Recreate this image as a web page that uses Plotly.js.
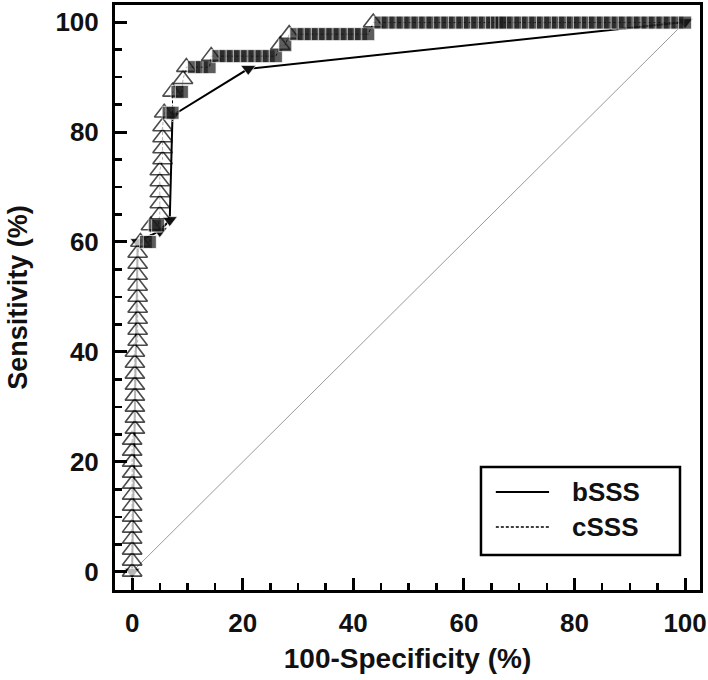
<!DOCTYPE html>
<html>
<head>
<meta charset="utf-8">
<script src="https://cdn.plot.ly/plotly-3.0.1.min.js"></script>
<style>
  body { margin: 0; background: #fff; }
  #chart { width: 708px; height: 680px; }
</style>
</head>
<body>
<div id="chart"></div>
<script>
// series names
const seriesNames = ['bSSS', 'cSSS'];

// bSSS: coarse ROC points (solid line)
const bX = [0, 1, 5, 6.8, 7.3, 21, 100];
const bY = [0, 60, 62, 64, 83, 91.5, 100];

// cSSS: step ROC points (dashed line, triangles)
const cX = [
    0, 0, 0, 0, 0, 0, 0, 0, 0, 0, 0, 0, 0,
    0.5, 0.5, 0.5, 0.5, 0.5, 0.5, 0.5, 0.5,
    1, 1, 1, 1, 1, 1, 1, 1, 1,
    1.5, 2.5, 3.2,
    3.4, 4.1, 4.7,
    5, 5, 5, 5, 5, 5.5, 5.5, 5.5, 5.5,
    5.8, 6.6, 7.3,
    7.3, 8.2, 9.0,
    9.2,
    9.8, 11.2, 12.6, 14,
    14.3, 15.6, 16.9, 18.2, 19.5, 20.8, 22.1, 23.4, 24.7, 26,
    26.8, 27.7,
    28.4, 29.7, 31, 32.3, 33.6, 34.9, 36.2, 37.5, 38.8, 40.1, 41.4, 42.7,
    43.6, 44.9, 46.2, 47.6, 48.9, 50.3, 51.6, 53, 54.3, 55.7, 57, 58.4, 59.7,
    61.1, 62.4, 63.8, 65.1, 66, 66.8, 67.5, 68.9, 70.2, 71.6, 72.9, 74.3, 75.6,
    77, 78.3, 79.7, 81, 82.4, 83.7, 85.1, 86.4, 87.8, 89.1, 90.5, 91.8, 93.2,
    94.5, 95.9, 97.2, 98.6, 100
];
const cY = [
    0, 2, 4, 6, 8, 10, 12, 14, 16, 18, 20, 22, 24,
    26, 28, 30, 32, 34, 36, 38, 40,
    42, 44, 46, 48, 50, 52, 54, 56, 58,
    60, 60, 60,
    63, 63, 63,
    65, 67, 69, 71, 73, 75, 77, 79, 81,
    83.5, 83.5, 83.5,
    87.3, 87.3, 87.3,
    89.6,
    91.8, 91.8, 91.8, 91.8,
    93.8, 93.8, 93.8, 93.8, 93.8, 93.8, 93.8, 93.8, 93.8, 93.8,
    95.8, 95.8,
    97.8, 97.8, 97.8, 97.8, 97.8, 97.8, 97.8, 97.8, 97.8, 97.8, 97.8, 97.8,
    99.9, 99.9, 99.9, 99.9, 99.9, 99.9, 99.9, 99.9, 99.9, 99.9, 99.9, 99.9, 99.9,
    99.9, 99.9, 99.9, 99.9, 99.9, 99.9, 99.9, 99.9, 99.9, 99.9, 99.9, 99.9, 99.9,
    99.9, 99.9, 99.9, 99.9, 99.9, 99.9, 99.9, 99.9, 99.9, 99.9, 99.9, 99.9, 99.9,
    99.9, 99.9, 99.9, 99.9, 99.9
];

// reference diagonal
const diagX = [0, 100];
const diagY = [0, 100];

const tickVals = [0, 20, 40, 60, 80, 100];

const FONT = 'Liberation Sans, Arial, sans-serif';

// a point starting a new level is drawn open, points continuing a level are dark
const isNewLevel = cY.map((y, i) => i === 0 || y !== cY[i - 1]);

const traces = [
    {
        x: diagX, y: diagY,
        mode: 'lines',
        line: { color: '#9a9a9a', width: 1 },
        hoverinfo: 'skip',
        showlegend: false
    },
    {
        x: bX, y: bY,
        mode: 'lines+markers',
        name: seriesNames[0],
        line: { color: '#000', width: 2 },
        marker: { symbol: 'triangle-down', size: 13, color: '#111', line: { color: '#fff', width: 0.6 } },
        showlegend: false
    },
    {
        x: cX, y: cY,
        mode: 'lines+markers',
        name: seriesNames[1],
        line: { color: '#000', width: 1, dash: '3px,2px' },
        marker: {
            size: isNewLevel.map(n => n ? 17 : 13),
            symbol: isNewLevel.map(n => n ? 'triangle-up' : 'square'),
            color: isNewLevel.map(n => n ? '#fff' : '#1a1a1a'),
            line: {
                color: isNewLevel.map(n => n ? '#000' : '#fff'),
                width: isNewLevel.map(n => n ? 1.6 : 0.8)
            }
        },
        showlegend: false
    }
];

const axisCommon = {
    tickvals: tickVals,
    ticks: 'inside',
    ticklen: 12,
    tickwidth: 3,
    tickcolor: '#000',
    minor: { dtick: 5, ticks: 'inside', ticklen: 7, tickwidth: 2.5, tickcolor: '#000', showgrid: false },
    showline: true,
    linewidth: 3,
    linecolor: '#000',
    mirror: true,
    showgrid: false,
    zeroline: false,
    ticklabelstandoff: 8,
    tickfont: { family: FONT, size: 26, color: '#111', weight: 'bold' }
};

const layout = {
    width: 708,
    height: 680,
    margin: { l: 115, r: 8, t: 5, b: 90 },
    paper_bgcolor: '#fff',
    plot_bgcolor: '#fff',
    showlegend: false,
    xaxis: Object.assign({}, axisCommon, {
        range: [-3.1, 102.7],
        title: { text: '100-Specificity (%)', font: { family: FONT, size: 28, color: '#111', weight: 'bold' }, standoff: 12 }
    }),
    yaxis: Object.assign({}, axisCommon, {
        range: [-3.3, 103.1],
        title: { text: 'Sensitivity (%)', font: { family: FONT, size: 27, color: '#111', weight: 'bold' }, standoff: 20 }
    }),
    shapes: [
        { type: 'rect', xref: 'paper', yref: 'paper', x0: 0.6256, x1: 0.9658, y0: 0.0598, y1: 0.2103,
          line: { color: '#000', width: 2.5 }, fillcolor: '#fff' },
        { type: 'line', xref: 'paper', yref: 'paper', x0: 0.651, x1: 0.742, y0: 0.1675, y1: 0.1675,
          line: { color: '#000', width: 2 } },
        { type: 'line', xref: 'paper', yref: 'paper', x0: 0.651, x1: 0.742, y0: 0.1077, y1: 0.1077,
          line: { color: '#000', width: 1.5, dash: '3px,2px' } }
    ],
    annotations: [
        { xref: 'paper', yref: 'paper', x: 0.778, y: 0.1675, xanchor: 'left', yanchor: 'middle',
          text: seriesNames[0], showarrow: false, font: { family: FONT, size: 26, color: '#111', weight: 'bold' } },
        { xref: 'paper', yref: 'paper', x: 0.778, y: 0.1077, xanchor: 'left', yanchor: 'middle',
          text: seriesNames[1], showarrow: false, font: { family: FONT, size: 26, color: '#111', weight: 'bold' } }
    ]
};

Plotly.newPlot('chart', traces, layout, { displayModeBar: false, staticPlot: true });
</script>
</body>
</html>
